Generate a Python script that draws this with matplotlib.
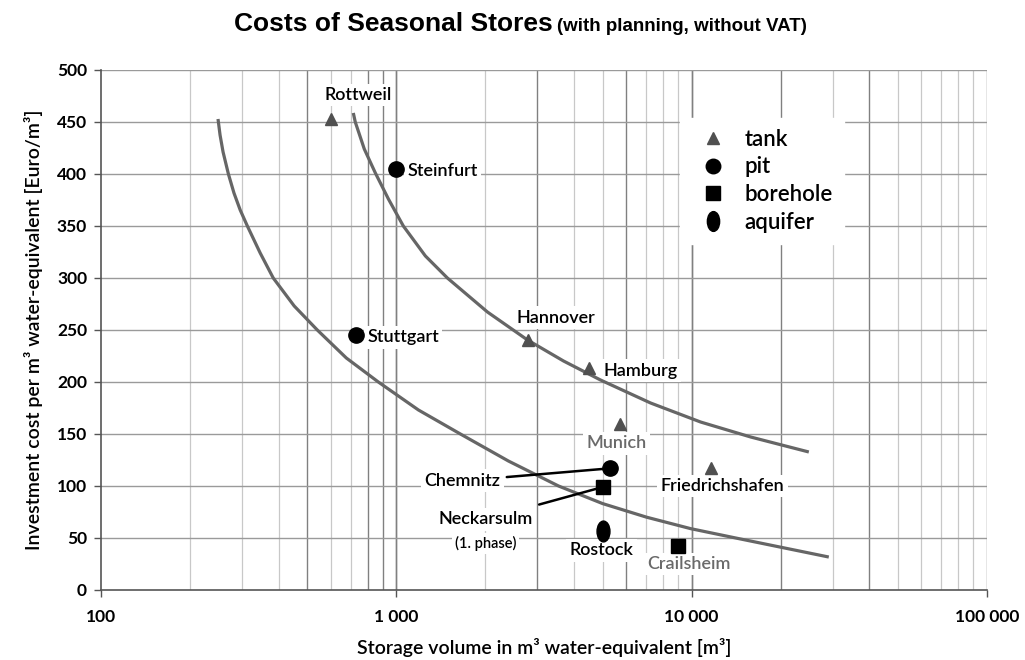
import numpy as np
import matplotlib
matplotlib.use("Agg")
import matplotlib.pyplot as plt
from matplotlib.lines import Line2D
from matplotlib.path import Path
from matplotlib.transforms import Affine2D
from matplotlib.ticker import FixedLocator, FuncFormatter

# ---- data ----
stores = ["Rottweil", "Steinfurt", "Stuttgart", "Hannover", "Hamburg", "Munich",
          "Chemnitz", "Neckarsulm", "Rostock", "Crailsheim", "Friedrichshafen"]
store_type = ["tank", "pit", "pit", "tank", "tank", "tank",
              "pit", "borehole", "aquifer", "borehole", "tank"]
volume = [600, 1000, 730, 2800, 4500, 5700, 5300, 5000, 5000, 9000, 11600]
cost = [453, 405, 245, 240, 213, 160, 117, 99, 57, 42, 117]

# lower cost curve
low_x = [249, 253, 259, 270, 282, 296, 313, 346, 383, 451, 540, 677, 869,
         1188, 1648, 2397, 3542, 4993, 7039, 9922, 14100, 29130]
low_y = [452.9, 437.5, 421.2, 400, 381.7, 365.4, 350, 324, 300, 273.1, 250,
         223.1, 200, 173.1, 150, 124, 100, 83.1, 70, 59, 50, 31.7]
# upper cost curve
up_x = [715, 726, 779, 849, 940, 1056, 1254, 1489, 2035, 2781, 3682, 4915,
        7261, 10728, 15849, 24930]
up_y = [458.7, 450, 424, 401, 376, 350, 321.2, 300, 267.3, 240.4, 220.2,
        201.9, 179.8, 161.5, 147.1, 132.7]

# label positions
lab_x = [743, 1089, 797, 3480, 5030, 5570, 1675, 2005, 4950, 9770, 12740]
lab_y = [476, 403, 243, 262, 211, 141, 105, 68, 38, 25, 100]
lab_ha = ["center", "left", "left", "center", "left", "center",
          "center", "center", "center", "center", "center"]
lab_color = ["black", "black", "black", "black", "black", "#6a6a6a",
             "black", "black", "black", "#6a6a6a", "black"]

legend_types = ["tank", "pit", "borehole", "aquifer"]

# ---- styles ----
ellipse = Path.unit_circle().transformed(Affine2D().scale(0.62, 1.0))
mstyle = {
    "tank": dict(marker="^", color="#505050", ms=8),
    "pit": dict(marker="o", color="black", ms=11),
    "borehole": dict(marker="s", color="black", ms=10),
    "aquifer": dict(marker=ellipse, color="black", ms=15),
}
txt_font = ["Lato", "DejaVu Sans"]
title_font = ["Liberation Sans Narrow", "Liberation Sans"]

fig = plt.figure(figsize=(10.25, 6.6), dpi=100)
ax = fig.add_axes([101 / 1025, 70 / 660, 886 / 1025, 520 / 660])
ax.set_xscale("log")
ax.set_xlim(100, 100000)
ax.set_ylim(0, 500)

# grid
dark_grid = [500, 800, 900, 1000, 3000, 6000, 10000, 20000, 40000, 100000]
for dec in [100, 1000, 10000]:
    for m in range(1, 11):
        v = dec * m
        if v == 100:
            continue
        dark = v in dark_grid
        ax.axvline(v, color="#808080" if dark else "#c8c8c8",
                   lw=1.0 if dark else 0.9, zorder=0.5)
for yv in range(50, 501, 50):
    ax.axhline(yv, color="#9a9a9a", lw=1.0, zorder=0.5)

for s in ["top", "right"]:
    ax.spines[s].set_visible(False)
for s in ["left", "bottom"]:
    ax.spines[s].set_color("#555555")
    ax.spines[s].set_linewidth(1.2)

# curves
ax.plot(low_x, low_y, color="#666666", lw=2.3, zorder=3, solid_capstyle="butt",
        solid_joinstyle="round")
ax.plot(up_x, up_y, color="#666666", lw=2.3, zorder=3, solid_capstyle="butt",
        solid_joinstyle="round")

# points
for xv, yv, t in zip(volume, cost, store_type):
    st = mstyle[t]
    ax.plot(xv, yv, linestyle="none", marker=st["marker"], color=st["color"],
            ms=st["ms"], zorder=5)

# labels
for i, name in enumerate(stores):
    ax.text(lab_x[i], lab_y[i], name, ha=lab_ha[i], va="center",
            fontsize=13, color=lab_color[i], family=txt_font,
            fontweight="semibold", zorder=2,
            bbox=dict(fc="white", ec="none", pad=2.5))

ax.text(2005, 45, "(1. phase)", ha="center", va="center", fontsize=10.5,
        family=txt_font, fontweight="semibold", zorder=2,
        bbox=dict(fc="white", ec="none", pad=2))

# leader lines for Chemnitz and Neckarsulm
for name in ["Chemnitz", "Neckarsulm"]:
    i = stores.index(name)
    ax.annotate("", xy=(volume[i], cost[i]), xytext=(lab_x[i], lab_y[i]),
                arrowprops=dict(arrowstyle="-", color="black", lw=1.8,
                                shrinkA=32 if name == "Chemnitz" else 40,
                                shrinkB=5),
                zorder=4)

# legend
handles = [Line2D([], [], linestyle="none", marker=mstyle[t]["marker"],
                  color=mstyle[t]["color"],
                  ms=mstyle[t]["ms"] * (0.95 if t != "tank" else 1.0))
           for t in legend_types]
leg = ax.legend(handles, legend_types, loc="upper left",
                bbox_to_anchor=(0.641, 0.93), frameon=True, fancybox=False,
                edgecolor="white", facecolor="white", framealpha=1,
                handletextpad=0.4, labelspacing=0.3, borderpad=0.5,
                prop={"family": txt_font, "size": 16, "weight": "semibold"})
leg.set_zorder(2)

# ticks
ax.xaxis.set_major_locator(FixedLocator([100, 1000, 10000, 100000]))
ax.xaxis.set_minor_locator(FixedLocator([]))
ax.xaxis.set_major_formatter(FuncFormatter(lambda v, p: f"{int(v):,}".replace(",", " ")))
ax.set_yticks(range(0, 501, 50))
ax.tick_params(axis="both", colors="#555555", labelcolor="black", length=5,
               width=1, labelsize=12.5)
ax.tick_params(axis="x", pad=9)
ax.tick_params(axis="y", pad=5)
for lab in ax.get_xticklabels() + ax.get_yticklabels():
    lab.set_fontweight("bold")
    lab.set_family(txt_font)

ax.set_xlabel("Storage volume in m³ water-equivalent [m³]", fontsize=14,
              family=txt_font, fontweight="semibold", labelpad=9)
ax.set_ylabel("Investment cost per m³ water-equivalent [Euro/m³]", fontsize=14,
              family=txt_font, fontweight="semibold", labelpad=10)

# title in two parts
fig.text(553 / 1025, 1 - 31 / 660, "Costs of Seasonal Stores", ha="right",
         va="baseline", fontsize=19, fontweight="bold", family=title_font)
fig.text(557 / 1025, 1 - 31 / 660, "(with planning, without VAT)", ha="left",
         va="baseline", fontsize=13.5, fontweight="bold", family=title_font)

fig.savefig("out.png", dpi=100)
